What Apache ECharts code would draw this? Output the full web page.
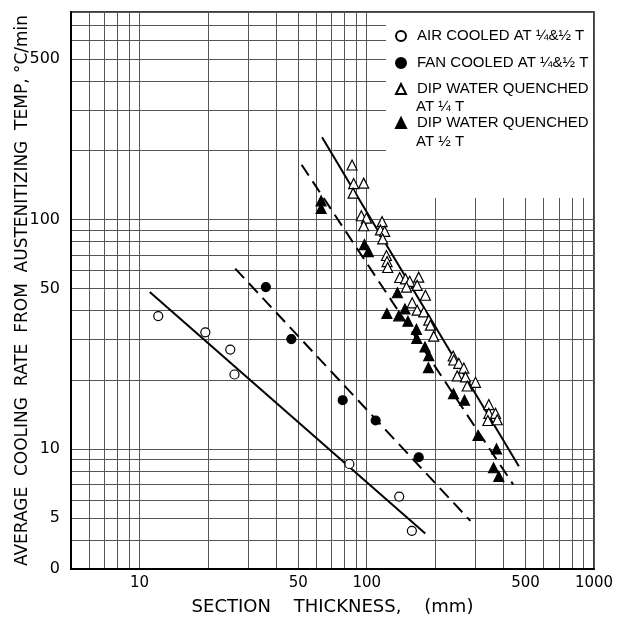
<!DOCTYPE html>
<html><head><meta charset="utf-8">
<script src="https://cdn.jsdelivr.net/npm/echarts@6/dist/echarts.min.js"></script>
<style>html,body{margin:0;padding:0;background:#fff}#c{width:623px;height:621px}</style>
</head><body><div id="c"></div>
<script>
// Axis ticks / labels
const xTickValues = [10, 50, 100, 500, 1000];
const yTickValues = [3, 5, 10, 50, 100, 500];
const yTickText = ['0', '5', '10', '50', '100', '500'];
const xGridValues = [5, 6, 7, 8, 9, 10, 20, 30, 40, 50, 60, 70, 80, 90, 100, 200, 300, 400, 500, 600, 700, 800, 900, 1000];
const yGridValues = [3, 4, 5, 6, 7, 8, 9, 10, 20, 30, 40, 50, 60, 70, 80, 90, 100, 200, 300, 400, 500, 600, 700, 800];

// Series names and legend labels
const seriesNames = ['AIR COOLED AT ¼&½ T', 'FAN COOLED AT ¼&½ T', 'DIP WATER QUENCHED AT ¼ T', 'DIP WATER QUENCHED AT ½ T'];
const legendFirstLines = ['AIR COOLED AT ¼&½ T', 'FAN COOLED AT ¼&½ T', 'DIP WATER QUENCHED', 'DIP WATER QUENCHED'];
const legendSecondLines = ['', '', 'AT ¼ T', 'AT ½ T'];

// Data: [section thickness mm, cooling rate °C/min]
const airCooled = [[12.1, 37.9], [19.5, 32.2], [25.1, 27.1], [26.2, 21.1], [83.9, 8.6], [139, 6.2], [158, 4.4]];
const fanCooled = [[36, 50.7], [46.6, 30.1], [78.4, 16.3], [109.5, 13.3], [169.4, 9.2]];
const dipQuarter = [
  [86.2, 172.5], [87.6, 143.2], [97.0, 143.8], [87.1, 130.1], [94.7, 103.7], [99.7, 101.3], [97.0, 93.8],
  [116.9, 97.7], [114.9, 89.9], [120.0, 88.7], [117.6, 82.2], [122.1, 69.6], [122.9, 65.5], [123.7, 61.7],
  [139.7, 55.8], [148.1, 55.1], [154.6, 53.7], [169.4, 56.0], [166.7, 51.6], [149.6, 50.7], [181.3, 46.7],
  [158.5, 43.3], [166.7, 40.2], [178.2, 39.5], [187.5, 36.4], [190.7, 34.6], [197.2, 31.0], [240.2, 25.4],
  [241.6, 24.4], [254.2, 23.6], [267.4, 22.5], [250.2, 20.8], [272.0, 20.6], [301.1, 19.5], [276.8, 18.8],
  [344.6, 15.6], [344.6, 14.3], [368.8, 14.3], [341.2, 13.3], [375.2, 13.4]
];
const dipHalf = [
  [63.0, 120.4], [63.0, 111.5], [97.7, 77.6], [101.7, 72.4], [136.5, 47.9], [122.7, 38.9], [138.3, 38.0],
  [147.3, 40.7], [151.8, 36.0], [165.5, 33.2], [166.1, 30.3], [180.4, 27.8], [187.5, 25.5], [186.9, 22.6],
  [240.9, 17.4], [269.3, 16.3], [308.9, 11.45], [372.6, 10.0], [361.4, 8.28], [381.4, 7.59]
];
// Fitted lines (end points)
const airFit = [[11.1, 48.2], [181, 4.28]];
const fanFit = [[26.4, 61], [286, 4.86]];
const quarterFit = [[63.6, 228], [467, 8.4]];
const halfFit = [[51.7, 173], [441, 7.0]];

const FONT = "'DejaVu Sans', sans-serif";
const LFONT = "'Liberation Sans', Arial, sans-serif";
const chart = echarts.init(document.getElementById('c'), null, {renderer: 'canvas'});

function scatter(name, data, symbol, size, filled) {
  return {
    name, type: 'scatter', data, symbol, symbolSize: size, z: 5,
    itemStyle: {color: filled ? '#000' : '#fff', borderColor: '#000', borderWidth: 1.2, opacity: 1},
    emphasis: {disabled: true}
  };
}
function fit(data, dashed) {
  return {
    type: 'line', data, symbol: 'none', silent: true, z: 3,
    lineStyle: {color: '#000', width: 2, type: dashed ? [13, 7] : 'solid'}
  };
}
const legendCenters = [36, 63, 89, 123];
const LH = 18;
function legendFor(i) {
  return {
    orient: 'vertical', left: 395, top: legendCenters[i] - LH / 2, padding: 0,
    itemWidth: 10, itemHeight: 10, selectedMode: false,
    data: [seriesNames[i]],
    formatter: () => legendFirstLines[i],
    textStyle: {fontSize: 15, color: '#000', lineHeight: LH, fontFamily: LFONT, padding: [0, 0, 0, 6]}
  };
}

chart.setOption({
  animation: false,
  backgroundColor: '#fff',
  grid: {left: 71, right: 29, top: 12, bottom: 51, show: true, borderColor: '#000', borderWidth: 1.5},
  xAxis: {
    type: 'log', logBase: 10, min: 5, max: 1000,
    name: 'SECTION    THICKNESS,    (mm)', nameLocation: 'middle', nameGap: 29, nameMoveOverlap: false,
    nameTextStyle: {fontSize: 18, color: '#000', fontFamily: FONT},
    axisLine: {show: true, lineStyle: {color: '#000', width: 2}},
    axisTick: {show: false, customValues: xGridValues},
    axisLabel: {customValues: xTickValues, fontSize: 15, color: '#000', margin: 7, fontFamily: FONT,
      showMinLabel: true, showMaxLabel: true, formatter: v => String(v)},
    splitLine: {show: true, lineStyle: {color: '#555', width: 1}}
  },
  yAxis: {
    type: 'log', logBase: 10, min: 3, max: 800,
    name: 'AVERAGE  COOLING  RATE  FROM  AUSTENITIZING  TEMP, °C/min', nameLocation: 'middle', nameGap: 40, nameMoveOverlap: false,
    nameTextStyle: {fontSize: 17, color: '#000', fontFamily: FONT},
    axisLine: {show: true, lineStyle: {color: '#000', width: 2}},
    axisTick: {show: false, customValues: yGridValues},
    axisLabel: {customValues: yTickValues, fontSize: 16, color: '#000', margin: 11, fontFamily: FONT,
      showMinLabel: true, showMaxLabel: true,
      formatter: v => { const i = yTickValues.indexOf(v); return i >= 0 ? yTickText[i] : String(v); }},
    splitLine: {show: true, lineStyle: {color: '#555', width: 1}}
  },
  legend: [0, 1, 2, 3].map(legendFor),
  graphic: [
    {type: 'rect', z: 1, silent: true, shape: {x: 386, y: 13, width: 207, height: 185}, style: {fill: '#fff'}},
    {type: 'text', z: 10, x: 416, y: legendCenters[2] + 18, silent: true,
      style: {text: legendSecondLines[2], font: '15px ' + LFONT, fill: '#000', verticalAlign: 'middle'}},
    {type: 'text', z: 10, x: 416, y: legendCenters[3] + 19, silent: true,
      style: {text: legendSecondLines[3], font: '15px ' + LFONT, fill: '#000', verticalAlign: 'middle'}}
  ],
  series: [
    fit(airFit, false), fit(fanFit, true), fit(quarterFit, false), fit(halfFit, true),
    scatter(seriesNames[0], airCooled, 'circle', 9, false),
    scatter(seriesNames[1], fanCooled, 'circle', 9, true),
    scatter(seriesNames[2], dipQuarter, 'triangle', 10, false),
    scatter(seriesNames[3], dipHalf, 'triangle', 10, true)
  ]
});
</script></body></html>
